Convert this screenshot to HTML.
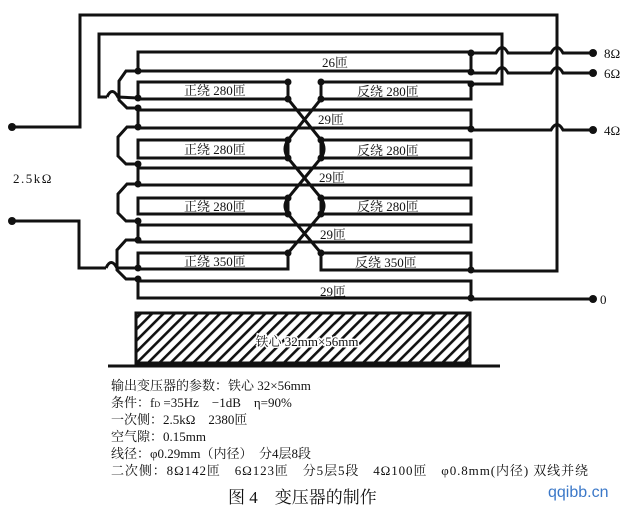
<!DOCTYPE html>
<html><head><meta charset="utf-8"><style>
html,body{margin:0;padding:0;background:#fff;}
svg{display:block;}
.t{font-family:"Liberation Serif","Noto Serif CJK SC",serif;fill:#111;}
</style></head><body>
<svg width="634" height="509" viewBox="0 0 634 509" xmlns="http://www.w3.org/2000/svg">
<defs>
<pattern id="h" patternUnits="userSpaceOnUse" width="8" height="8" patternTransform="rotate(45)">
<rect width="8" height="8" fill="#fff"/><rect x="0" y="0" width="2.6" height="8" fill="#111"/>
</pattern>
</defs>
<g fill="none" stroke="#111" stroke-width="3" stroke-linejoin="miter">
<polyline points="12,127 80,127 80,15 557,15 557,271 471,271"/>
<polyline points="107,97 99,97 99,34 502,34 502,84 471,84"/>
<polyline points="138,71 138,52 471,52 471,71 138,71"/>
<rect x="138" y="82" width="150" height="17"/>
<rect x="138" y="140" width="150" height="18"/>
<rect x="138" y="198" width="150" height="16"/>
<rect x="138" y="253" width="150" height="16"/>
<rect x="321" y="82" width="150" height="17"/>
<rect x="321" y="140" width="150" height="18"/>
<rect x="321" y="198" width="150" height="16"/>
<rect x="321" y="253" width="150" height="17"/>
<rect x="138" y="110" width="333" height="18"/>
<rect x="138" y="168" width="333" height="17"/>
<rect x="138" y="225" width="333" height="17"/>
<rect x="138" y="281" width="333" height="17"/>
<polyline points="138,71 126,71 119,81 119,100 127,108 138,108"/>
<polyline points="138,127 127,127 118,137 118,156 126,164 138,164"/>
<polyline points="138,184 127,184 118,194 118,213 126,221 138,221"/>
<polyline points="138,240 126,240 117,250 117,270 126,279 138,279"/>
<path d="M107,97 Q112,86 118,97 L138,98"/>
<polyline points="12,221 79,221 79,268 106,268"/>
<path d="M106,268 Q111,257 117,268 L138,268"/>
<line x1="288" y1="99" x2="321" y2="140"/><line x1="321" y1="99" x2="288" y2="140"/>
<line x1="288" y1="158" x2="321" y2="198"/><line x1="321" y1="158" x2="288" y2="198"/>
<line x1="288" y1="214" x2="321" y2="253"/><line x1="321" y1="214" x2="288" y2="253"/>
<path d="M288,140 Q282,149 288,158"/><path d="M321,140 Q327,149 321,158"/>
<path d="M288,198 Q282,206 288,214"/><path d="M321,198 Q327,206 321,214"/>
<path d="M471,53 L496,53 Q502,42 508,53 L551,53 Q557,42 563,53 L593,53"/>
<path d="M471,73 L496,73 Q502,62 508,73 L551,73 Q557,62 563,73 L593,73"/>
<path d="M471,130 L551,130 Q557,119 563,130 L593,130"/>
<line x1="471" y1="299" x2="593" y2="299"/>
</g>
<g fill="#111">
<circle cx="12" cy="127" r="4"/><circle cx="12" cy="221" r="4"/>
<circle cx="593" cy="53" r="4"/><circle cx="593" cy="73" r="4"/><circle cx="593" cy="130" r="4"/><circle cx="593" cy="299" r="4"/>
<circle cx="138" cy="71" r="3.5"/><circle cx="138" cy="98" r="3.5"/><circle cx="138" cy="108" r="3.5"/><circle cx="138" cy="127" r="3.5"/>
<circle cx="138" cy="164" r="3.5"/><circle cx="138" cy="184" r="3.5"/><circle cx="138" cy="221" r="3.5"/><circle cx="138" cy="240" r="3.5"/>
<circle cx="138" cy="268" r="3.5"/><circle cx="138" cy="279" r="3.5"/>
<circle cx="288" cy="82" r="3.5"/><circle cx="288" cy="99" r="3.5"/><circle cx="288" cy="140" r="3.5"/><circle cx="288" cy="158" r="3.5"/>
<circle cx="288" cy="198" r="3.5"/><circle cx="288" cy="214" r="3.5"/><circle cx="288" cy="253" r="3.5"/>
<circle cx="321" cy="82" r="3.5"/><circle cx="321" cy="99" r="3.5"/><circle cx="321" cy="140" r="3.5"/><circle cx="321" cy="158" r="3.5"/>
<circle cx="321" cy="198" r="3.5"/><circle cx="321" cy="214" r="3.5"/><circle cx="321" cy="253" r="3.5"/>
<circle cx="471" cy="53" r="3.5"/><circle cx="471" cy="72" r="3.5"/><circle cx="471" cy="84" r="3.5"/><circle cx="471" cy="129" r="3.5"/>
<circle cx="471" cy="270" r="3.5"/><circle cx="471" cy="298" r="3.5"/>
</g>
<g class="t" font-size="13">
<text x="322" y="67">26匝</text>
<text x="184" y="95">正绕 280匝</text><text x="357" y="96">反绕 280匝</text>
<text x="318" y="124">29匝</text>
<text x="184" y="154">正绕 280匝</text><text x="357" y="155">反绕 280匝</text>
<text x="319" y="182">29匝</text>
<text x="184" y="211">正绕 280匝</text><text x="357" y="211">反绕 280匝</text>
<text x="320" y="239">29匝</text>
<text x="184" y="266">正绕 350匝</text><text x="355" y="267">反绕 350匝</text>
<text x="320" y="296">29匝</text>
<text x="13" y="183" letter-spacing="1.5">2.5kΩ</text>
<text x="604" y="58">8Ω</text><text x="604" y="78">6Ω</text><text x="604" y="135">4Ω</text><text x="600" y="304">0</text>
</g>
<rect x="136" y="313" width="334" height="50" fill="url(#h)" stroke="#111" stroke-width="3"/>
<line x1="108" y1="366" x2="500" y2="366" stroke="#111" stroke-width="3"/>
<text class="t" x="307" y="346" font-size="13" text-anchor="middle" stroke="#fff" stroke-width="3" paint-order="stroke">铁心 32mm×56mm</text>
<g class="t" font-size="13">
<text x="111" y="390">输出变压器的参数：铁心 32×56mm</text>
<text x="111" y="407">条件：f<tspan font-size="8">D</tspan> =35Hz　−1dB　η=90%</text>
<text x="111" y="424">一次侧：2.5kΩ　2380匝</text>
<text x="111" y="441">空气隙：0.15mm</text>
<text x="111" y="458">线径：φ0.29mm（内径）　分4层8段</text>
<text x="111" y="475" textLength="477" lengthAdjust="spacing">二次侧：8Ω142匝　6Ω123匝　分5层5段　4Ω100匝　φ0.8mm(内径) 双线并绕</text>
</g>
<text class="t" x="228" y="503" font-size="17">图 4　变压器的制作</text>
<text x="548" y="497" font-family="Liberation Sans, sans-serif" font-size="16" fill="#3b78c8">qqibb.cn</text>
</svg>
</body></html>
